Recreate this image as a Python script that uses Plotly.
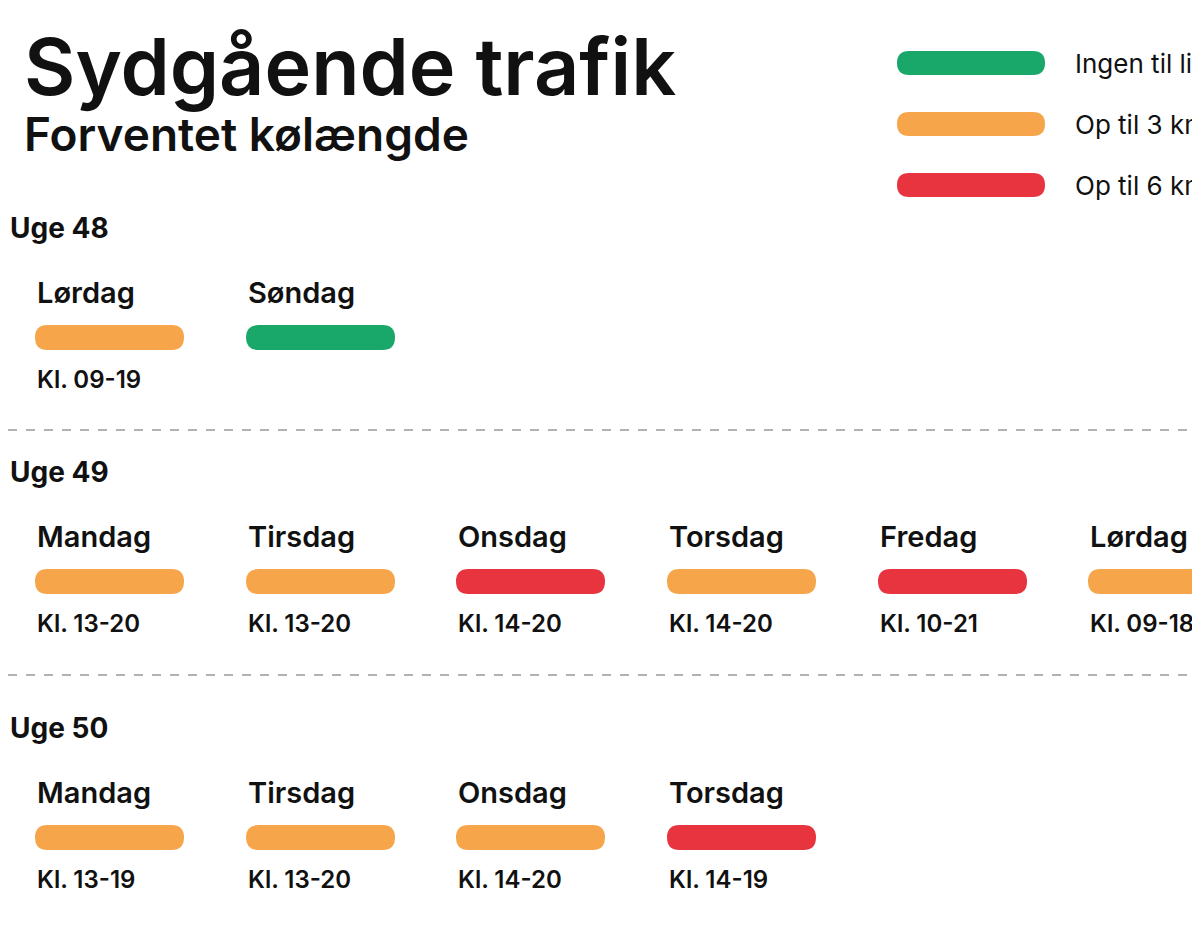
import plotly.graph_objects as go

# data
weeks = ["Uge 48", "Uge 49", "Uge 50"]
week_days = [
    ["Lørdag", "Søndag"],
    ["Mandag", "Tirsdag", "Onsdag", "Torsdag", "Fredag", "Lørdag"],
    ["Mandag", "Tirsdag", "Onsdag", "Torsdag"],
]
week_levels = [
    [1, 0],
    [1, 1, 2, 1, 2, 1],
    [1, 1, 1, 2],
]
week_times = [
    ["Kl. 09-19", ""],
    ["Kl. 13-20", "Kl. 13-20", "Kl. 14-20", "Kl. 14-20", "Kl. 10-21", "Kl. 09-18"],
    ["Kl. 13-19", "Kl. 13-20", "Kl. 14-20", "Kl. 14-19"],
]
legend_labels = ["Ingen til lidt kø", "Op til 3 km kø", "Op til 6 km kø"]
level_colors = ["#1aa86a", "#f6a54a", "#e8343f"]

W, H = 1200, 937
DX, DY = -8, -8  # page offset compensation
FONT = "Inter, Noto Sans, sans-serif"
fig = go.Figure()


def pill(x0, y0, x1, y1, color):
    x0, x1, y0, y1 = x0 + DX, x1 + DX, y0 + DY, y1 + DY
    r = (y1 - y0) / 2
    p = (f"M {x0+r},{y0} L {x1-r},{y0} Q {x1},{y0} {x1},{y0+r} "
         f"Q {x1},{y1} {x1-r},{y1} L {x0+r},{y1} Q {x0},{y1} {x0},{y1-r} "
         f"Q {x0},{y0} {x0+r},{y0} Z")
    fig.add_shape(type="path", path=p, fillcolor=color, line_width=0, xref="x", yref="y")


def text(x, y, s, size, weight=700, color="#111"):
    fig.add_annotation(x=x + DX, y=y + DY, text=s, showarrow=False, xanchor="left", yanchor="middle",
                       font=dict(family=FONT, size=size, color=color, weight=weight),
                       xref="x", yref="y")


text(22, 66, "Sydgående trafik", 79, 600)
text(22, 134, "Forventet kølængde", 46, 600)

for i, lab in enumerate(legend_labels):
    yc = 63 + i * 61
    pill(897, yc - 12, 1045, yc + 12, level_colors[i])
    text(1073, yc, lab, 26, 400)

col_x = [35, 246, 456, 667, 878, 1088]
week_y = [228, 472, 728]
for w, name in enumerate(weeks):
    y0 = week_y[w]
    text(8, y0, name, 28, 700)
    for d, day in enumerate(week_days[w]):
        x = col_x[d]
        text(x, y0 + 64, day, 29, 600)
        pill(x, y0 + 97, x + 149, y0 + 122, level_colors[week_levels[w][d]])
        if week_times[w][d]:
            text(x, y0 + 151, week_times[w][d], 24, 600)

for yl in [430, 675]:
    fig.add_shape(type="line", x0=0, x1=W, y0=yl + DY, y1=yl + DY,
                  line=dict(color="#999", width=1.5, dash="dash"))

fig.update_xaxes(range=[0, W], visible=False)
fig.update_yaxes(range=[H, 0], visible=False)
fig.update_layout(width=W, height=H, margin=dict(l=0, r=0, t=0, b=0),
                  plot_bgcolor="white", paper_bgcolor="white", showlegend=False)
fig.write_html("out.html")
